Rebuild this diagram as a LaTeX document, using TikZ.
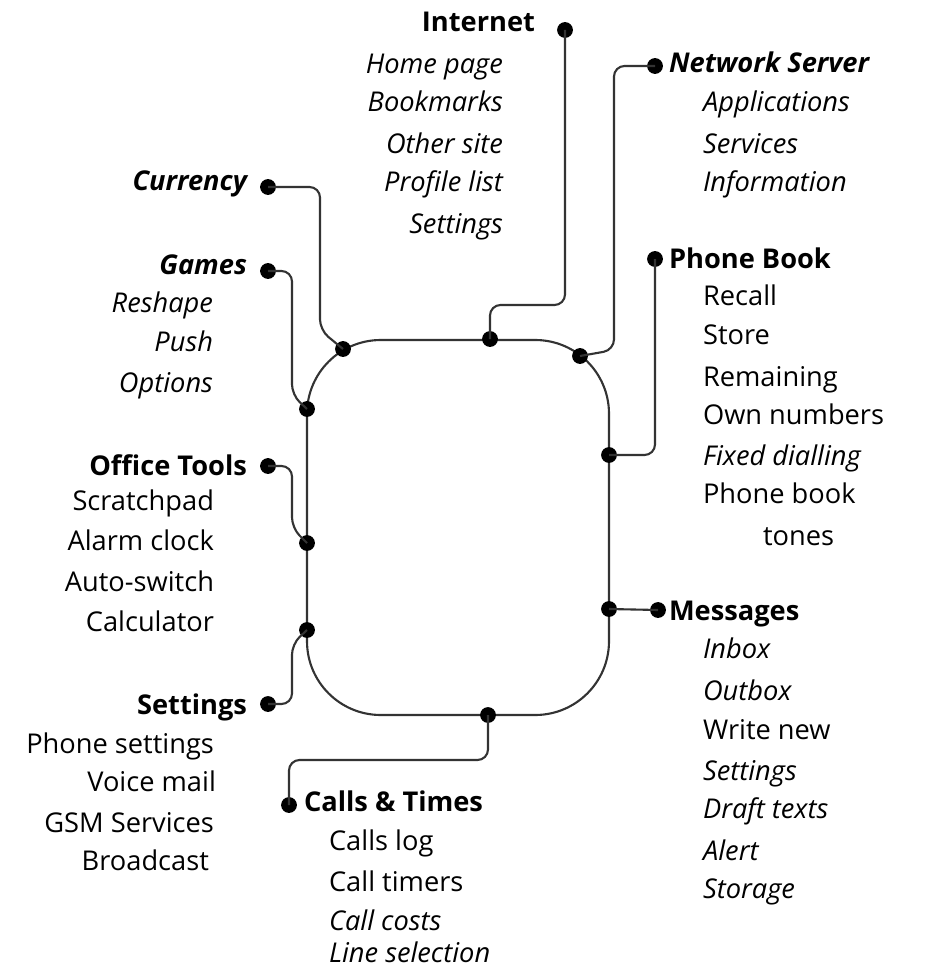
\documentclass[tikz,border=0pt]{standalone}
\usepackage{fontspec}
\setmainfont{Open Sans}
\begin{document}
\begin{tikzpicture}[x=0.02cm, y=-0.02cm, line width=1.2pt,
    dot/.style={circle, fill=black, inner sep=0pt, minimum size=9pt},
    head/.style={inner sep=0pt, text=black, font=\fontsize{15.5}{18}\selectfont\bfseries},
    item/.style={inner sep=0pt, text=black, font=\fontsize{15.5}{18}\selectfont},
    link/.style={black!80, rounded corners=6pt}]
    \useasboundingbox (0,0) rectangle (928,973);

    % the loop
    \draw[black!80, rounded corners=42pt] (307,340) rectangle (609,715);

    % dots on the loop
    \node[dot] (lCur) at (343,349) {};
    \node[dot] (lInt) at (490,339) {};
    \node[dot] (lNet) at (580,356) {};
    \node[dot] (lGam) at (307,409) {};
    \node[dot] (lOff) at (307,543) {};
    \node[dot] (lSet) at (307,630) {};
    \node[dot] (lPho) at (609,455) {};
    \node[dot] (lMsg) at (609,609) {};
    \node[dot] (lCal) at (488,715) {};

    % outer dots
    \node[dot] (dInt) at (565,30) {};
    \node[dot] (dNet) at (655,66) {};
    \node[dot] (dPho) at (655,259) {};
    \node[dot] (dMsg) at (658,610) {};
    \node[dot] (dCur) at (268,187) {};
    \node[dot] (dGam) at (268,271) {};
    \node[dot] (dOff) at (268,466) {};
    \node[dot] (dSet) at (268,704) {};
    \node[dot] (dCal) at (289,805) {};

    % connectors
    \draw[link] (lInt.center) |- (565,305) -- (dInt.center);
    \draw[link] (lNet.center) -- (614,350) |- (dNet.center);
    \draw[link] (lPho.center) -| (dPho.center);
    \draw[link] (lMsg.center) -- (dMsg.center);
    \draw[link] (dCur.center) -| (320,330) -- (lCur.center);
    \draw[link] (dGam.center) -| (292,395) -- (lGam.center);
    \draw[link] (dOff.center) -| (292,528) -- (lOff.center);
    \draw[link] (dSet.center) -| (292,644) -- (lSet.center);
    \draw[link] (lCal.center) |- (289,760) -- (dCal.center);

    % headings
    \node[head, anchor=mid east] (hInt) at (536,27) {Internet};
    \node[head, anchor=mid west] (hNet) at (668,68) {\itshape Network Server};
    \node[head, anchor=mid west] (hPho) at (668,264) {Phone Book};
    \node[head, anchor=mid west] (hMsg) at (668,616) {Messages};
    \node[head, anchor=mid east] (hCur) at (248,186) {\itshape Currency};
    \node[head, anchor=mid east] (hGam) at (248,270) {\itshape Games};
    \node[head, anchor=mid east] (hOff) at (248,471) {Office Tools};
    \node[head, anchor=mid east] (hSet) at (248,710) {Settings};
    \node[head, anchor=mid west] (hCal) at (303,807) {Calls \& Times};

    % items
    \foreach \t/\y in {Home page/69, Bookmarks/107, Other site/149, Profile list/187, Settings/229}
        \node[item, anchor=mid east, font=\fontsize{15.5}{18}\selectfont\itshape] at (504,\y) {\t};
    \foreach \t/\y in {Applications/107, Services/149, Information/187}
        \node[item, anchor=mid west, font=\fontsize{15.5}{18}\selectfont\itshape] at (702,\y) {\t};
    \foreach \t/\y in {Recall/301, Store/340, Remaining/382, Own numbers/420, \textit{Fixed dialling}/461, Phone book/499}
        \node[item, anchor=mid west] at (702,\y) {\t};
    \node[item, anchor=mid west] at (762,541) {tones};
    \foreach \t/\y in {\textit{Inbox}/654, \textit{Outbox}/696, Write new/735, \textit{Settings}/776, \textit{Draft texts}/814, \textit{Alert}/856, \textit{Storage}/894}
        \node[item, anchor=mid west] at (702,\y) {\t};
    \foreach \t/\y in {Reshape/308, Push/347, Options/388}
        \node[item, anchor=mid east, font=\fontsize{15.5}{18}\selectfont\itshape] at (214,\y) {\t};
    \foreach \t/\y in {Scratchpad/506, Alarm clock/546, Auto-switch/587, Calculator/627}
        \node[item, anchor=mid east] at (215,\y) {\t};
    \foreach \t/\y/\x in {Phone settings/749/215, Voice mail/787/217, GSM Services/828/215, Broadcast/866/210}
        \node[item, anchor=mid east] at (\x,\y) {\t};
    \foreach \t/\y in {Calls log/846, Call timers/887, \textit{Call costs}/926, \textit{Line selection}/958}
        \node[item, anchor=mid west] at (328,\y) {\t};
\end{tikzpicture}
\end{document}
